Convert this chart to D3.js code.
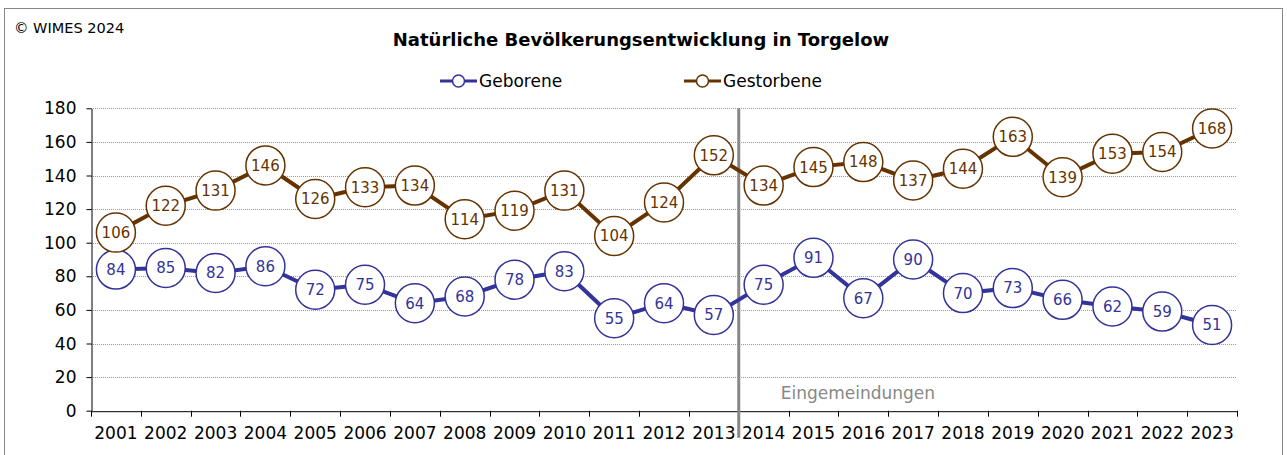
<!DOCTYPE html>
<html><head><meta charset="utf-8">
<script src="https://cdn.jsdelivr.net/npm/d3@7"></script>
<style>body{margin:0;background:#fff;} svg{display:block;}</style>
</head><body>
<script>
const years = ["2001","2002","2003","2004","2005","2006","2007","2008","2009","2010","2011","2012","2013","2014","2015","2016","2017","2018","2019","2020","2021","2022","2023"];
const geborene = [84,85,82,86,72,75,64,68,78,83,55,64,57,75,91,67,90,70,73,66,62,59,51];
const gestorbene = [106,122,131,146,126,133,134,114,119,131,104,124,152,134,145,148,137,144,163,139,153,154,168];
const yTicks = [0,20,40,60,80,100,120,140,160,180];
const seriesNames = ["Geborene","Gestorbene"];
const seriesColors = ["#333399","#663300"];
const markerYear = "2014";
const markerLabel = "Eingemeindungen";

(function(){
const W=1287,H=455;
const font = "Tahoma, 'DejaVu Sans', sans-serif";
const svg = d3.select("body").append("svg").attr("width",W).attr("height",H);
svg.append("rect").attr("x",4.5).attr("y",8.5).attr("width",1278).attr("height",460).attr("fill","#fff").attr("stroke","#888").attr("stroke-width",1);

const pL=91, pR=1237, pT=108.3, pB=410.7;
const x = d3.scaleBand().domain(years).range([pL,pR]);
const y = d3.scaleLinear().domain([0,180]).range([pB,pT]);

svg.append("text").attr("x",14).attr("y",33).attr("font-family",font).attr("font-size",14.5).text("© WIMES 2024");
svg.append("text").attr("x",641).attr("y",46).attr("text-anchor","middle").attr("font-family",font).attr("font-weight","bold").attr("font-size",18).text("Natürliche Bevölkerungsentwicklung in Torgelow");

// grid
svg.append("g").selectAll("line").data(yTicks.filter(d=>d>0)).join("line")
  .attr("x1",pL).attr("x2",pR).attr("y1",d=>Math.round(y(d))+0.5).attr("y2",d=>Math.round(y(d))+0.5)
  .attr("stroke","#999").attr("stroke-width",1).attr("stroke-dasharray","1,1");

// axes
const yAxis = svg.append("g").attr("transform",`translate(${pL+0.5},0)`).call(d3.axisLeft(y).tickValues(yTicks).tickSize(5).tickSizeOuter(0));
yAxis.select(".domain").attr("stroke","#000");
yAxis.selectAll(".tick text").attr("font-family",font).attr("font-size",17).attr("fill","#000").attr("x",-15).attr("dy","0.33em");

const xAxis = svg.append("g").attr("transform",`translate(0,${pB+0.5})`).call(d3.axisBottom(x).tickSize(0).tickSizeOuter(0));
xAxis.select(".domain").attr("stroke","#000");
xAxis.selectAll(".tick text").attr("font-family",font).attr("font-size",17).attr("fill","#000").attr("dy","1.45em");
// boundary ticks
svg.append("g").selectAll("line").data(years.concat(["end"])).join("line")
  .attr("x1",(d,i)=>Math.round(pL+i*x.step())+0.5).attr("x2",(d,i)=>Math.round(pL+i*x.step())+0.5)
  .attr("y1",pB).attr("y2",pB+6).attr("stroke","#000");

// marker line
const mx = x(markerYear);
svg.append("line").attr("x1",mx).attr("x2",mx).attr("y1",pT).attr("y2",pB+27).attr("stroke","#888").attr("stroke-width",3);
svg.append("text").attr("x",mx+42).attr("y",399).attr("font-family",font).attr("font-size",17).attr("fill","#888").text(markerLabel);

// series
const data = [geborene,gestorbene];
data.forEach((vals,si)=>{
  const c = seriesColors[si];
  const line = d3.line().x((d,i)=>x(years[i])+x.bandwidth()/2).y(d=>y(d));
  svg.append("path").datum(vals).attr("d",line).attr("fill","none").attr("stroke",c).attr("stroke-width",4);
  const g = svg.append("g").selectAll("g").data(vals).join("g")
    .attr("transform",(d,i)=>`translate(${x(years[i])+x.bandwidth()/2},${y(d)})`);
  g.append("circle").attr("r",19.5).attr("fill","#fff").attr("stroke",c).attr("stroke-width",1.5);
  g.append("text").attr("text-anchor","middle").attr("dy","0.36em").attr("font-family",font).attr("font-size",15).attr("fill",c).text(d=>d);
});

// legend
const legX = [440,684];
seriesNames.forEach((n,i)=>{
  const g = svg.append("g").attr("transform",`translate(${legX[i]},81)`);
  g.append("line").attr("x1",0).attr("x2",37).attr("stroke",seriesColors[i]).attr("stroke-width",3);
  g.append("circle").attr("cx",18.5).attr("r",6).attr("fill","#fff").attr("stroke",seriesColors[i]).attr("stroke-width",1.5);
  g.append("text").attr("x",39).attr("dy","0.36em").attr("font-family",font).attr("font-size",17).attr("fill","#000").text(n);
});
})();
</script>
</body></html>
